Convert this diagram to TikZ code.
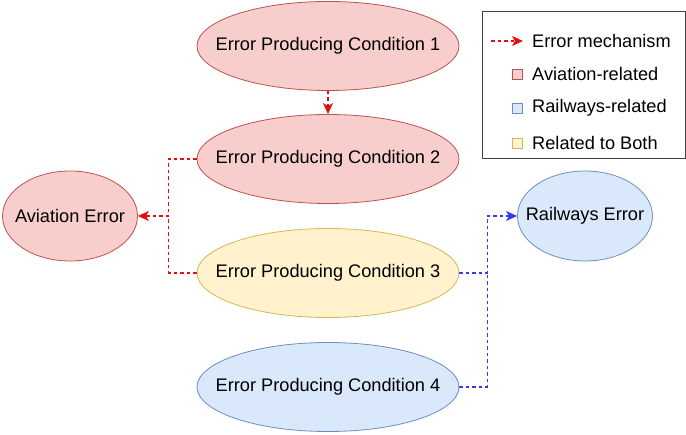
\documentclass[tikz,border=0pt]{standalone}
\usepackage{fontspec}
\setmainfont{Liberation Sans}
\usetikzlibrary{shapes.geometric,arrows.meta}
\definecolor{avfill}{HTML}{F8CECC}\definecolor{avline}{HTML}{B85450}
\definecolor{rwfill}{HTML}{DAE8FC}\definecolor{rwline}{HTML}{6C8EBF}
\definecolor{bothfill}{HTML}{FFF2CC}\definecolor{bothline}{HTML}{D6B656}
\definecolor{redarrow}{HTML}{E01010}\definecolor{bluearrow}{HTML}{3838F0}
\tikzset{
  ell/.style={ellipse, draw, line width=0.8pt, inner ysep=0pt, inner xsep=-40pt,
    font=\fontsize{18.2}{21}\selectfont},
  epc/.style={ell, minimum width=262pt, minimum height=89pt},
  errnode/.style={ell, inner xsep=-25pt, minimum width=135pt, minimum height=90pt},
  av/.style={fill=avfill, draw=avline},
  rw/.style={fill=rwfill, draw=rwline},
  both/.style={fill=bothfill, draw=bothline},
  redlink/.style={draw=redarrow, dash pattern=on 3.5pt off 3pt, line width=1.2pt},
  bluelink/.style={draw=bluearrow, dash pattern=on 3.5pt off 3pt, line width=1.2pt},
  tip/.style={-{Stealth[length=11pt,width=10pt,inset=3pt]}},
  legtext/.style={anchor=west, font=\fontsize{18.2}{21}\selectfont, inner sep=0pt},
  legsq/.style={draw, line width=0.8pt, minimum size=10pt, inner sep=0pt}
}
\begin{document}
\begin{tikzpicture}[x=1pt,y=-1pt]
\useasboundingbox (0,0) rectangle (686,435);

% conditions and errors
\node[epc,av]   (c1) at (328,46)  {Error Producing Condition 1};
\node[epc,av]   (c2) at (328,159) {Error Producing Condition 2};
\node[epc,both] (c3) at (328,273) {Error Producing Condition 3};
\node[epc,rw]   (c4) at (328,387) {Error Producing Condition 4};
\node[errnode,av] (ae) at (70,216)  {Aviation Error};
\node[errnode,rw] (re) at (585,216) {Railways Error};

% junctions where two mechanisms merge
\path (c2.west) ++(-28,0) coordinate (jav);
\path (jav |- ae.east) coordinate (jave);
\path (c3.east) ++(28,0) coordinate (jrw);

% error mechanisms
\draw[redlink,tip] (c1.south) -- (c2.north);
\draw[redlink,tip] (c2.west) -- (jav) |- (ae.east);
\draw[redlink] (c3.west) -| (jave);
\draw[bluelink,tip] (c3.east) -- (jrw) |- (re.west);
\draw[bluelink] (c4.east) -| (jrw);

% legend
\node[draw=black!75, line width=1pt, minimum width=203pt, minimum height=147pt, inner sep=0pt] (leg) at (584,85.5) {};
\coordinate (la) at (491,41);
\coordinate (lb) at (523,41);
\draw[redlink,tip] (la) -- (lb);
\node[legtext] (t1) at (532,41) {Error mechanism};
\node[legsq,av]   (s2) at (517,74)  {};
\node[legtext] (t2) at (532,74) {Aviation-related};
\node[legsq,rw]   (s3) at (517,108) {};
\node[legtext] (t3) at (532,108) {Railways-related};
\node[legsq,both] (s4) at (517,143) {};
\node[legtext] (t4) at (532,143) {Related to Both};
\end{tikzpicture}
\end{document}
